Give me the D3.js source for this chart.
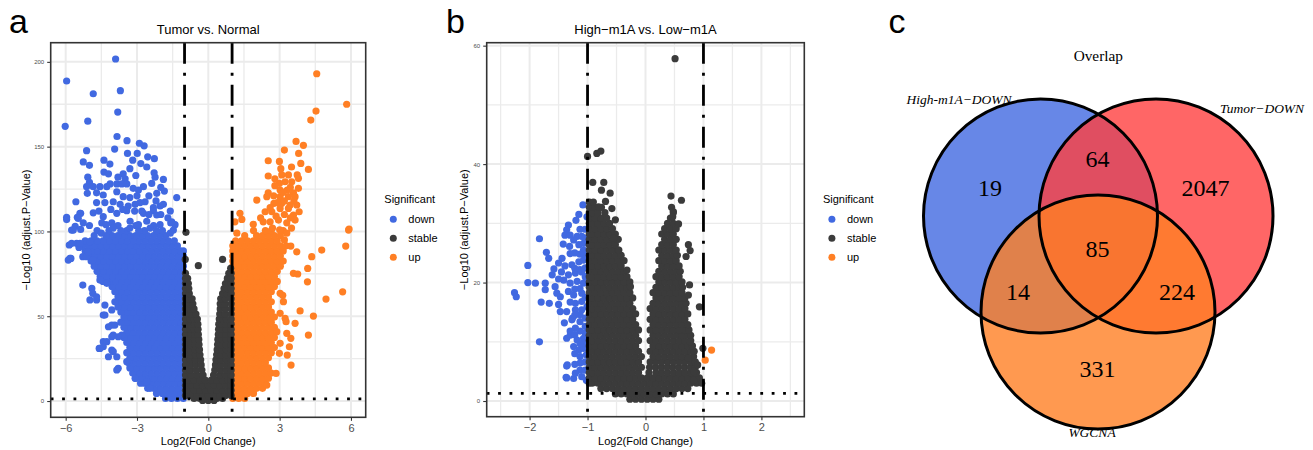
<!DOCTYPE html>
<html>
<head>
<meta charset="utf-8">
<script src="https://cdn.jsdelivr.net/npm/d3@7"></script>
<style>
  body { margin: 0; background: #fff; }
  svg { display: block; }
</style>
</head>
<body>
<svg id="fig" width="1313" height="450"></svg>
<script>
// ---------------------------------------------------------------
// Volcano data. Each row: [-log10 adj. P, log2FC, log2FC, ...]
// ---------------------------------------------------------------
const sigLevels = ["down", "stable", "up"];

// Panel a: Tumor vs. Normal
const tumorDown = [
  [1.5,-1.05,-1.3,-1.55,-1.8],
  [4.5,-1.05,-1.18,-1.43,-1.68,-1.93,-2.18],
  [7.5,-1.05,-1.3,-1.55,-1.8,-2.05,-2.3,-2.55],
  [10.5,-1.05,-1.18,-1.43,-1.68,-1.93,-2.18,-2.43,-2.68,-2.85],
  [13.5,-1.05,-1.3,-1.55,-1.8,-2.05,-2.3,-2.55,-2.8,-3.05],
  [16.5,-1.05,-1.18,-1.43,-1.68,-1.93,-2.18,-2.43,-2.68,-2.93,-3.18],
  [19.5,-1.05,-1.3,-1.55,-1.8,-2.05,-2.3,-2.55,-2.8,-3.05,-3.3],
  [22.5,-1.05,-1.18,-1.43,-1.68,-1.93,-2.18,-2.43,-2.68,-2.93,-3.18,-3.35],
  [25.5,-1.05,-1.3,-1.55,-1.8,-2.05,-2.3,-2.55,-2.8,-3.05,-3.3],
  [28.5,-1.05,-1.18,-1.43,-1.68,-1.93,-2.18,-2.43,-2.68,-2.93,-3.18,-3.43],
  [31.5,-1.05,-1.3,-1.55,-1.8,-2.05,-2.3,-2.55,-2.8,-3.05,-3.3],
  [34.5,-1.05,-1.18,-1.43,-1.68,-1.93,-2.18,-2.43,-2.68,-2.93,-3.18,-3.43],
  [37.5,-1.05,-1.3,-1.55,-1.8,-2.05,-2.3,-2.55,-2.8,-3.05,-3.3,-3.55],
  [40.5,-1.05,-1.18,-1.43,-1.68,-1.93,-2.18,-2.43,-2.68,-2.93,-3.18,-3.43],
  [43.5,-1.05,-1.3,-1.55,-1.8,-2.05,-2.3,-2.55,-2.8,-3.05,-3.3,-3.55],
  [46.5,-1.05,-1.18,-1.43,-1.68,-1.93,-2.18,-2.43,-2.68,-2.93,-3.18,-3.43,-3.68],
  [49.5,-1.05,-1.3,-1.55,-1.8,-2.05,-2.3,-2.55,-2.8,-3.05,-3.3,-3.55],
  [52.5,-1.05,-1.18,-1.43,-1.68,-1.93,-2.18,-2.43,-2.68,-2.93,-3.18,-3.43,-3.68],
  [55.5,-1.05,-1.3,-1.55,-1.8,-2.05,-2.3,-2.55,-2.8,-3.05,-3.3,-3.55,-3.8],
  [58.5,-1.05,-1.18,-1.43,-1.68,-1.93,-2.18,-2.43,-2.68,-2.93,-3.18,-3.43,-3.68,-3.93],
  [61.5,-1.05,-1.3,-1.55,-1.8,-2.05,-2.3,-2.55,-2.8,-3.05,-3.3,-3.55,-3.8],
  [64.5,-1.05,-1.18,-1.43,-1.68,-1.93,-2.18,-2.43,-2.68,-2.93,-3.18,-3.43,-3.68,-3.93],
  [67.5,-1.05,-1.3,-1.55,-1.8,-2.05,-2.3,-2.55,-2.8,-3.05,-3.3,-3.55,-3.8,-4.05],
  [70.5,-1.05,-1.18,-1.43,-1.68,-1.93,-2.18,-2.43,-2.68,-2.93,-3.18,-3.43,-3.68,-3.93,-4.18,-4.43],
  [73.5,-1.05,-1.3,-1.55,-1.8,-2.05,-2.3,-2.55,-2.8,-3.05,-3.3,-3.55,-3.8,-4.05,-4.3,-4.55],
  [76.5,-1.05,-1.18,-1.43,-1.68,-1.93,-2.18,-2.43,-2.68,-2.93,-3.18,-3.43,-3.68,-3.93,-4.18,-4.43,-4.68],
  [79.5,-1.05,-1.3,-1.55,-1.8,-2.05,-2.3,-2.55,-2.8,-3.05,-3.3,-3.55,-3.8,-4.05,-4.3,-4.55,-4.8],
  [82.5,-1.05,-1.18,-1.43,-1.68,-1.93,-2.18,-2.43,-2.68,-2.93,-3.18,-3.43,-3.68,-3.93,-4.18,-4.43,-4.68,-4.93],
  [85.5,-1.05,-1.3,-1.55,-1.8,-2.05,-2.3,-2.55,-2.8,-3.05,-3.3,-3.55,-3.8,-4.05,-4.3,-4.55,-4.8,-5.05],
  [88.5,-1.05,-1.18,-1.43,-1.68,-1.93,-2.18,-2.43,-2.68,-2.93,-3.18,-3.43,-3.68,-3.93,-4.18,-4.43,-4.68,-4.93,-5.18],
  [91.5,-1.3,-1.55,-1.8,-2.05,-2.3,-2.55,-2.8,-3.05,-3.3,-3.55,-3.8,-4.05,-4.3,-4.55,-4.8,-5.05,-5.3],
  [94.5,-1.43,-1.68,-1.93,-2.18,-2.43,-2.68,-2.93,-3.18,-3.43,-3.68,-3.93,-4.18,-4.43,-4.68,-4.93,-5.18],
  [97.5,-1.8,-2.05,-2.3,-2.55,-2.8,-3.05,-3.3,-3.55,-3.8,-4.05,-4.3,-4.8],
  [100.5,-1.93,-2.18,-2.68,-2.93,-3.43,-3.68,-4.18,-4.68],
  [103.5,-2.3,-3.05,-3.8,-5.0],
  [201.7,-3.9],[188.7,-5.96],[181.2,-4.84],[183,-3.7],[170.4,-3.81],[162,-6.02],[165,-5.07],
  [156,-3.84],[153.5,-3.42],[152,-2.9],[150.5,-2.7],[147.6,-5.12],[148.6,-3.94],[146,-3.4,-2.99],
  [144,-2.55],[142.9,-2.27],[141,-5.26],[139,-5.0],[142,-4.39,-3.18],[139.7,-4.14],[140,-2.84],
  [138,-2.59],[135,-4.39],[134,-4.2,-3.58],[131,-3.5],[133,-3.05],[134.6,-2.28],[132,-2.24,-5.07,-3.8],
  [129,-5.0],[130.7,-1.89],[126.4,-5.12,-4.84,-4.56,-4.27,-2.73],[128,-4.13,-3.85,-3.64,-3.43],
  [125.4,-3.16],[124.4,-2.94],[128.3,-2.38],[122.5,-2.17,-5.09],[123.8,-1.85],[120,-1.33],
  [122.8,-4.7],[121.5,-4.42],[123.4,-3.85],[120.5,-3.58],[117.5,-5.57,-4.0,-2.66],[117,-4.7,-4.35,-2.87],
  [116,-3.71,-3.08,-1.89],[115,-3.37,-2.03],[114,-2.31],[110.7,-5.4,-3.85,-2.73,-5.37],[108.3,-5.51,-5.96],
  [111,-4.84],[108.7,-4.42],[112.2,-3.43,-2.31],[109.7,-2.17],[107,-5.96],[103,-5.6],[105,-4.48,-4.06,-1.58],
  [106,-3.29,-2.59],[104,-2.94,-2.03,-4.3,-1.4],[100.8,-5.75,-5.68,-1.47],[101.2,-5.37],[105.1,-5.26],
  [107.7,-5.47],[105.7,-1.54],[112,-4.6,-1.6],[113,-4.1,-3.6],[112,-3.1,-2.8],[110,-2.5,-2.0],[108,-1.7],
  [120,-3.3],[121,-3.0,-2.5],[118,-2.2],[137,-3.3],[126,-2.0],[99,-4.5,-1.6],[102,-3.3,-4.0,-2.45],
  [92,-5.85],[90.6,-5.44],[83.1,-5.89,-4.84],[84.1,-5.78,-5.82],[85.1,-5.28,-5.12],[93,-5.54,-5.75,-5.4],
  [93.9,-4.98],[88,-5.05],[68.4,-5.28],[66.4,-4.9],[63.5,-4.86],[59.6,-4.98,-4.7],[61.5,-4.7],
  [71.3,-4.56],[69.4,-4.27],[56.6,-4.35],[50.7,-4.42,-4.35],[53.7,-4.06],[44.8,-4.06,-3.93],
  [43.8,-4.2],[38.9,-4.0,-3.64],[37.9,-4.06,-3.79],[35,-4.42,-4.27],[32,-4.42],[31,-4.59,-4.56],
  [30.1,-4.06],[29.1,-4.0],[26.1,-4.2,-3.85],[23.2,-3.43],[19.3,-3.79],[18.3,-3.85],[13.4,-3.08],
  [11.4,-2.59],[7.5,-2.45]
];

const tumorUp = [
  [1.5,1.03,1.28,1.53],
  [4.5,1.03,1.15,1.4,1.65,1.9],
  [7.5,1.03,1.28,1.53,1.78,2.03,2.28],
  [10.5,1.03,1.15,1.4,1.65,1.9,2.15,2.4],
  [13.5,1.03,1.28,1.53,1.78,2.03,2.28,2.53],
  [16.5,1.03,1.15,1.4,1.65,1.9,2.15,2.4,2.65],
  [19.5,1.03,1.28,1.53,1.78,2.03,2.28,2.53],
  [22.5,1.03,1.15,1.4,1.65,1.9,2.15,2.4],
  [25.5,1.03,1.28,1.53,1.78,2.03,2.28,2.53],
  [28.5,1.03,1.15,1.4,1.65,1.9,2.15,2.4,2.65],
  [31.5,1.03,1.28,1.53,1.78,2.03,2.28,2.53,2.78],
  [34.5,1.03,1.15,1.4,1.65,1.9,2.15,2.4,2.65],
  [37.5,1.03,1.28,1.53,1.78,2.03,2.28,2.53,2.78],
  [40.5,1.03,1.15,1.4,1.65,1.9,2.15,2.4,2.65],
  [43.5,1.03,1.28,1.53,1.78,2.03,2.28,2.53,2.78],
  [46.5,1.03,1.15,1.4,1.65,1.9,2.15,2.4,2.65],
  [49.5,1.03,1.28,1.53,1.78,2.03,2.28,2.53,2.78],
  [52.5,1.03,1.15,1.4,1.65,1.9,2.15,2.4,2.65],
  [55.5,1.03,1.28,1.53,1.78,2.03,2.28,2.53],
  [58.5,1.03,1.15,1.4,1.65,1.9,2.15,2.4,2.65],
  [61.5,1.03,1.28,1.53,1.78,2.03,2.28,2.53],
  [64.5,1.03,1.15,1.4,1.65,1.9,2.15,2.4,2.65],
  [67.5,1.03,1.28,1.53,1.78,2.03,2.28,2.53,2.78],
  [70.5,1.03,1.15,1.4,1.65,1.9,2.15,2.4,2.65,2.9],
  [73.5,1.03,1.28,1.53,1.78,2.03,2.28,2.53,2.78],
  [76.5,1.03,1.15,1.4,1.65,1.9,2.15,2.4,2.65,2.9],
  [79.5,1.03,1.28,1.53,1.78,2.03,2.28,2.53,2.78,3.03],
  [82.5,1.03,1.15,1.4,1.65,1.9,2.15,2.4,2.65,2.9,3.15],
  [85.5,1.03,1.28,1.53,1.78,2.03,2.28,2.53,2.78,3.03],
  [88.5,1.03,1.15,1.4,1.65,1.9,2.15,2.4,2.65,2.9,3.15],
  [91.5,1.03,1.28,1.53,1.78,2.03,2.28,2.53,2.78,3.03,3.28],
  [94.5,1.15,1.4,1.65,1.9,2.15,2.4,2.65,2.9],
  [97.5,1.53,2.03,2.28,2.53,2.78,3.03],
  [100.5,1.9,2.4,2.65,3.15],
  [193,4.56],[175,5.82],[171,4.53],[165.7,4.31],[153.1,3.69],[150.8,4.0],[148,3.2],[146,3.8],
  [141.7,2.52],[141.3,2.99],[140.1,3.89],[136.6,4.21],[132.7,2.52],[133.3,3.09,3.37,3.74],
  [131.3,3.79],[129.3,3.23,3.51],[128.3,2.99],[125.4,3.79],[124.4,3.32,3.02],[122.8,3.58,2.52],
  [120.5,2.46,3.02,3.37,3.65],[118.5,2.04],[116.6,3.09,2.76],[115.6,3.44,3.72],
  [111.6,2.39,2.67,3.82],[113.6,3.02,3.37],[109.6,3.58],[105.7,1.12,2.31,2.6],[110.7,1.33],
  [107.1,1.41],[104.2,1.89],[106.7,2.95,3.65],[105.1,3.3],[101.4,5.92],[100.8,5.9],
  [102,2.7,3.5],[101,3.0],[108,2.2,3.45],[109,2.85],[110,3.2],[114,2.6],[117,2.9],[118,3.2,3.6],
  [121,2.75],[123,3.15],[126,3.45],[131,2.8],[137,3.05],[138,3.5],[127,2.8],[99,1.2,3.3],
  [89,4.77],[91.4,5.78,3.47],[88,3.72],[78.2,4.18],[75.3,3.58],[74.9,3.76],[70.3,4.17],[60.1,4.95],
  [64.4,5.65],[50.1,4.42],[53.1,3.86],[45.8,3.65],[46.8,3.27],[37,3.47],[32,3.41],[27.1,3.32],
  [38.9,4.21],[21.2,3.48],[63.5,3.02],[62.3,3.13],[58.6,3.16],[51.7,3.02],[48.8,3.23],[39.9,3.3],
  [40.9,2.88],[95,3.2],[85.1,4.35],[28.1,2.99],[34,3.02],[16.3,2.85],[9.4,2.46]
];

const tumorStable = [
  [0.3,-0.24,0,0.24],
  [1.5,-0.6,-0.36,-0.12,0.12,0.36,0.6],
  [3.3,-0.96,-0.72,-0.48,-0.24,0,0.24,0.48,0.72,0.96],
  [6.3,-0.96,-0.84,-0.6,-0.36,-0.12,0.12,0.36,0.6,0.84,0.96],
  [9.3,-0.96,-0.72,-0.48,-0.24,0,0.24,0.48,0.72,0.96],
  [12.3,-0.96,-0.84,-0.6,-0.36,-0.13,0.13,0.36,0.6,0.84,0.96],
  [15.3,-0.96,-0.72,-0.48,-0.22,0.22,0.48,0.72,0.96],
  [18.3,-0.96,-0.76,-0.52,-0.27,0.27,0.52,0.76,0.96],
  [21.3,-0.96,-0.74,-0.52,-0.3,0.3,0.52,0.74,0.96],
  [24.3,-0.96,-0.76,-0.54,-0.32,0.32,0.54,0.76,0.96],
  [27.3,-0.96,-0.74,-0.54,-0.35,0.35,0.54,0.74,0.96],
  [30.3,-0.96,-0.76,-0.56,-0.37,0.37,0.56,0.76,0.96],
  [33.3,-0.96,-0.74,-0.55,-0.39,0.39,0.55,0.74,0.96],
  [36.3,-0.96,-0.76,-0.58,-0.4,0.4,0.58,0.76,0.96],
  [39.3,-0.96,-0.74,-0.57,-0.42,0.42,0.57,0.74,0.96],
  [42.3,-0.96,-0.76,-0.6,-0.43,0.43,0.6,0.76,0.96],
  [45.3,-0.96,-0.74,-0.58,-0.44,0.44,0.58,0.74,0.96],
  [48.3,-0.96,-0.76,-0.6,-0.46,0.46,0.6,0.76,0.96],
  [51.3,-0.96,-0.74,-0.52,0.48,0.7,0.96],
  [54.3,-0.96,-0.76,-0.6,0.5,0.72,0.96],
  [57.3,-0.96,-0.8,-0.65,0.5,0.7,0.96],
  [60.3,-0.96,-0.8,-0.68,0.52,0.72,0.96],
  [63.3,-0.96,-0.8,0.6,0.78,0.96],
  [66.3,-0.96,-0.82,0.66,0.82,0.96],
  [69.3,-0.96,-0.84,0.72,0.86,0.96],
  [72.3,-0.96,-0.87,0.8,0.96],
  [75.3,-0.96,0.86,0.96],
  [78.3,0.94],
  [99.5,-0.94],[83.5,-0.97,0.6],[79.8,-0.42]
];

// Panel b: High-m1A vs. Low-m1A
const m1aDown = [
  [33.1,-1.08],[31.1,-1.01],[27.4,-1.83],[29.7,-1.33],[28.9,-1.36],[28,-1.39,-1.3],[27.8,-1.18,-1.1],
  [27.2,-1.24],[26.1,-1.31],[26.4,-1.15],[26.6,-1.07],[25.5,-1.07],[25.1,-1.71],[24.1,-1.67,-1.44],
  [22.9,-2.03],[23.3,-1.5],[22.8,-1.39],[23,-1.27],[23.5,-1.15],[23.8,-1.07],[21.3,-1.61,-1.33],
  [21.6,-1.21],[21.8,-1.1],[20,-2.03],[19.9,-1.9,-1.73,-1.3,-1.07],[19.3,-1.56],[20.4,-1.41],
  [20.2,-1.18],[18.3,-2.26],[17.6,-2.23,-1.47],[16.7,-1.8],[16.5,-1.66,-1.21],[18.8,-1.73],
  [18.2,-1.53,-1.1],[18.5,-1.33],[17.9,-1.24],[16.8,-1.1],[15.1,-1.47,-1.36],[15.4,-1.21,-1.1],
  [15.9,-1.01],[13.7,-1.27],[13.4,-1.13],[12.6,-1.04],[12.3,-1.21],[10,-1.83],[10.6,-1.36,-1.07],
  [11.1,-1.3],[10.3,-1.18],[9.2,-1.24],[8.6,-1.15],[8.9,-1.07],[7.5,-1.13],[7.8,-1.02],
  [5.9,-1.36],[6.6,-1.04],[5.2,-1.13,-1.04],[4,-1.37],[3.8,-1.24],[4.1,-1.1],[3.5,-1.02],
  [4.7,-1.21],[6.1,-1.35],[3.9,-1.36],[14,-1.26],[11.8,-1.3],
  [29,-1.04,-1.13],[27.5,-1.04],[24.5,-1.04],[22.5,-1.04],[21,-1.04],[17.5,-1.04],[14,-1.04],
  [11.5,-1.04],[9.8,-1.04],[24.8,-1.13],[22.2,-1.13],[19,-1.13],[14.6,-1.13],[11.8,-1.13],
  [9.7,-1.13],[6.4,-1.13],[25,-1.22],[22.4,-1.22],[18.9,-1.22],[14.5,-1.22],[11.2,-1.22],[8,-1.22],
  [6.2,-1.22],[24.9,-1.3],[16.7,-1.3],[26.5,-1.42],[21.8,-1.45],[20.6,-1.5],[22.3,-1.58],
  [13.2,-1.4],[16.3,-1.5],[30.5,-1.2],[31.5,-1.15]
];

const m1aUp = [
  [8.6,1.14],[6.9,1.03]
];

const m1aStable = [
  [0.3,-0.27,-0.17,-0.07,0.03,0.13,0.23],
  [1.2,-0.52,-0.42,-0.32,-0.22,-0.12,-0.02,0.08,0.18,0.28,0.38,0.48],
  [2.1,-0.77,-0.67,-0.57,-0.47,-0.37,-0.27,-0.17,-0.07,0.03,0.13,0.23,0.33,0.43,0.53,0.63,0.73],
  [3.0,-0.97,-0.92,-0.82,-0.72,-0.62,-0.52,-0.42,-0.32,-0.22,-0.12,-0.02,0.08,0.18,0.28,0.38,0.48,0.58,0.68,0.78,0.88],
  [3.9,-0.97,-0.87,-0.77,-0.67,-0.57,-0.47,-0.37,-0.27,-0.17,-0.07,0.03,0.13,0.23,0.33,0.43,0.53,0.63,0.73,0.83,0.93],
  [4.8,-0.97,-0.92,-0.82,-0.72,-0.62,-0.52,-0.42,-0.32,-0.22,-0.12,0.06,0.18,0.28,0.38,0.48,0.58,0.68,0.78,0.88],
  [5.7,-0.97,-0.87,-0.77,-0.67,-0.57,-0.47,-0.37,-0.27,-0.17,-0.07,0.07,0.17,0.27,0.37,0.47,0.57,0.67,0.77,0.86],
  [6.6,-0.97,-0.92,-0.82,-0.72,-0.62,-0.52,-0.42,-0.32,-0.22,-0.12,0.08,0.18,0.28,0.38,0.48,0.58,0.68,0.78,0.86],
  [7.5,-0.97,-0.87,-0.77,-0.67,-0.57,-0.47,-0.37,-0.27,-0.17,-0.07,0.13,0.23,0.33,0.43,0.53,0.63,0.73,0.83],
  [8.4,-0.97,-0.92,-0.82,-0.72,-0.62,-0.52,-0.42,-0.32,-0.22,-0.12,0.08,0.18,0.28,0.38,0.48,0.58,0.68,0.78,0.84],
  [9.3,-0.97,-0.87,-0.77,-0.67,-0.57,-0.47,-0.37,-0.27,-0.17,0.13,0.23,0.33,0.43,0.53,0.63,0.73,0.81],
  [10.2,-0.97,-0.92,-0.82,-0.72,-0.62,-0.52,-0.42,-0.32,-0.22,-0.12,0.08,0.18,0.28,0.38,0.48,0.58,0.68,0.78],
  [11.1,-0.97,-0.87,-0.77,-0.67,-0.57,-0.47,-0.37,-0.27,-0.17,0.13,0.23,0.33,0.43,0.53,0.63,0.73,0.78],
  [12.0,-0.97,-0.92,-0.82,-0.72,-0.62,-0.52,-0.42,-0.32,-0.22,-0.12,0.08,0.18,0.28,0.38,0.48,0.58,0.68,0.75],
  [12.9,-0.97,-0.87,-0.77,-0.67,-0.57,-0.47,-0.37,-0.27,-0.17,0.13,0.23,0.33,0.43,0.53,0.63,0.73],
  [13.8,-0.97,-0.92,-0.82,-0.72,-0.62,-0.52,-0.42,-0.32,-0.22,0.08,0.18,0.28,0.38,0.48,0.58,0.68],
  [14.7,-0.97,-0.87,-0.77,-0.67,-0.57,-0.47,-0.37,-0.27,-0.17,0.13,0.23,0.33,0.43,0.53,0.63,0.73],
  [15.6,-0.97,-0.92,-0.82,-0.72,-0.62,-0.52,-0.42,-0.32,-0.22,0.08,0.18,0.28,0.38,0.48,0.58,0.68],
  [16.5,-0.97,-0.87,-0.77,-0.67,-0.57,-0.47,-0.37,-0.27,0.13,0.23,0.33,0.43,0.53,0.63,0.7],
  [17.4,-0.97,-0.92,-0.82,-0.72,-0.62,-0.52,-0.42,-0.32,-0.22,0.18,0.28,0.38,0.48,0.58,0.68],
  [18.3,-0.97,-0.87,-0.77,-0.67,-0.57,-0.47,-0.37,-0.27,0.13,0.23,0.33,0.43,0.53,0.63],
  [19.2,-0.97,-0.92,-0.82,-0.72,-0.62,-0.52,-0.42,-0.32,0.18,0.28,0.38,0.48,0.58,0.64],
  [20.1,-0.97,-0.87,-0.77,-0.67,-0.57,-0.47,-0.37,-0.27,0.23,0.33,0.43,0.53,0.63],
  [21.0,-0.97,-0.92,-0.82,-0.72,-0.62,-0.52,-0.42,-0.32,0.18,0.28,0.38,0.48,0.58],
  [21.9,-0.97,-0.87,-0.77,-0.67,-0.57,-0.47,-0.37,0.23,0.33,0.43,0.53,0.6],
  [22.8,-0.97,-0.92,-0.82,-0.72,-0.62,-0.52,-0.42,0.28,0.38,0.48,0.58],
  [23.7,-0.97,-0.87,-0.77,-0.67,-0.57,-0.47,-0.37,0.23,0.33,0.43,0.53],
  [24.6,-0.97,-0.92,-0.82,-0.72,-0.62,-0.52,-0.42,0.28,0.38,0.48,0.55],
  [25.5,-0.97,-0.87,-0.77,-0.67,-0.57,-0.47,0.23,0.33,0.43,0.53],
  [26.4,-0.97,-0.92,-0.82,-0.72,-0.62,-0.52,0.28,0.38,0.48],
  [27.3,-0.97,-0.87,-0.77,-0.67,-0.57,-0.47,0.33,0.43,0.53],
  [28.2,-0.97,-0.92,-0.82,-0.72,-0.62,-0.52,0.28,0.38,0.48],
  [29.1,-0.97,-0.87,-0.77,-0.67,-0.57,0.33,0.43,0.53],
  [30.0,-0.97,-0.92,-0.82,-0.72,-0.62,0.38,0.48],
  [30.9,-0.97,-0.87,-0.77,-0.67,0.43],
  [31.8,-0.97,-0.92,-0.82,-0.7,0.48],
  [32.7,-0.97,-0.87,-0.76,0.45],
  [33.6,-0.97,-0.9],
  [41.3,-1.0],[41.8,-0.84],[42.2,-0.77],[36.9,-0.91,-0.72],[35.6,-0.76],[35.1,-0.61],[33.7,-0.69],
  [32.5,-0.58],[32.8,-0.81],[30.6,-0.52],[27.5,-0.55],[25.5,-0.46],[22.1,-0.32],[19.3,-0.26],
  [57.8,0.51],[34.6,0.44],[33.9,0.62],[32,0.48],[31.1,0.47],[29.9,0.57],[26.4,0.74],[25.4,0.77],
  [24.4,0.7],[19.6,0.76],[17.9,0.74],[15.9,0.93],[8.9,0.99],[7.2,0.74],[5.0,0.83],[3.0,0.97],
  [3.5,0.83],[10,0.77],[6.1,0.9]
];

// Venn diagram: three gene sets and the size of each region
const vennSets = ["High-m1A\u2212DOWN", "Tumor\u2212DOWN", "WGCNA"];
const vennRegions = ["A", "B", "C", "AB", "AC", "BC", "ABC"];
const vennCounts = [19, 2047, 331, 64, 14, 224, 85];

// ---------------------------------------------------------------
const SANS = "'Liberation Sans', Arial, Helvetica, sans-serif";
const SERIF = "'Liberation Serif', 'Times New Roman', Times, serif";
const svg = d3.select("#fig");

const colour = d3.scaleOrdinal().domain(sigLevels).range(["#4169e1", "#3b3b3b", "#ff7f24"]);

function toPoints(rows, level) {
  return rows.flatMap(([p, ...fc]) => fc.map(v => ({ fc: v, p: p, level: level })));
}

function volcano(cfg) {
  const x = d3.scaleLinear().domain(cfg.xDomain).range([cfg.left, cfg.right]);
  const y = d3.scaleLinear().domain(cfg.yDomain).range([cfg.bottom, cfg.top]);
  const g = svg.append("g");
  const w = cfg.right - cfg.left, h = cfg.bottom - cfg.top;

  const clipId = "clip-" + cfg.id;
  g.append("clipPath").attr("id", clipId)
    .append("rect").attr("x", cfg.left).attr("y", cfg.top).attr("width", w).attr("height", h);

  g.append("rect").attr("x", cfg.left).attr("y", cfg.top).attr("width", w).attr("height", h).attr("fill", "#fff");

  // grid: minor then major
  const grid = g.append("g").attr("stroke", "#ebebeb").attr("fill", "none");
  grid.selectAll(".xm").data(cfg.xMinor).join("line")
    .attr("x1", d => x(d)).attr("x2", d => x(d)).attr("y1", cfg.top).attr("y2", cfg.bottom).attr("stroke-width", 1.3);
  grid.selectAll(".ym").data(cfg.yMinor).join("line")
    .attr("y1", d => y(d)).attr("y2", d => y(d)).attr("x1", cfg.left).attr("x2", cfg.right).attr("stroke-width", 1.3);
  grid.selectAll(".xM").data(cfg.xMajor).join("line")
    .attr("x1", d => x(d)).attr("x2", d => x(d)).attr("y1", cfg.top).attr("y2", cfg.bottom).attr("stroke-width", 2);
  grid.selectAll(".yM").data(cfg.yMajor).join("line")
    .attr("y1", d => y(d)).attr("y2", d => y(d)).attr("x1", cfg.left).attr("x2", cfg.right).attr("stroke-width", 2);

  // points
  const pts = g.append("g").attr("clip-path", `url(#${clipId})`);
  cfg.layers.forEach(layer => {
    pts.append("g").selectAll("circle").data(toPoints(layer.rows, layer.level)).join("circle")
      .attr("cx", d => x(d.fc)).attr("cy", d => y(d.p)).attr("r", 3.6)
      .attr("fill", d => colour(d.level));
  });

  // thresholds
  const th = g.append("g").attr("stroke", "#000").attr("fill", "none");
  cfg.fcCut.forEach(v => {
    th.append("line").attr("x1", x(v)).attr("x2", x(v)).attr("y1", cfg.top).attr("y2", cfg.bottom)
      .attr("stroke-width", 2.8).attr("stroke-dasharray", "21,9,3,9");
  });
  th.append("line").attr("x1", cfg.left).attr("x2", cfg.right).attr("y1", y(cfg.pCut)).attr("y2", y(cfg.pCut))
    .attr("stroke-width", 2.8).attr("stroke-dasharray", "2.8,8.6");

  // border
  g.append("rect").attr("x", cfg.left).attr("y", cfg.top).attr("width", w).attr("height", h)
    .attr("fill", "none").attr("stroke", "#333").attr("stroke-width", 1.6);

  // axes
  const ax = g.append("g").attr("transform", `translate(0,${cfg.bottom})`)
    .call(d3.axisBottom(x).tickValues(cfg.xMajor).tickFormat(d3.format("d")).tickSize(3.5).tickPadding(3));
  ax.select(".domain").remove();
  ax.selectAll("line").attr("stroke", "#333").attr("stroke-width", 1.1);
  ax.selectAll("text").attr("fill", "#4d4d4d").attr("font-size", 11).attr("font-family", SANS);

  const ay = g.append("g").attr("transform", `translate(${cfg.left},0)`)
    .call(d3.axisLeft(y).tickValues(cfg.yMajor).tickFormat(d3.format("d")).tickSize(3.5).tickPadding(3));
  ay.select(".domain").remove();
  ay.selectAll("line").attr("stroke", "#333").attr("stroke-width", 1.1);
  ay.selectAll("text").attr("fill", "#4d4d4d").attr("font-size", 6).attr("font-family", SANS);

  // titles
  g.append("text").attr("x", (cfg.left + cfg.right) / 2).attr("y", 33.5).attr("text-anchor", "middle")
    .attr("font-family", SANS).attr("font-size", 13).text(cfg.title);
  g.append("text").attr("x", (cfg.left + cfg.right) / 2).attr("y", 444.5).attr("text-anchor", "middle")
    .attr("font-family", SANS).attr("font-size", 11).text("Log2(Fold Change)");
  g.append("text").attr("transform", `translate(${cfg.yTitleX},${(cfg.top + cfg.bottom) / 2}) rotate(-90)`)
    .attr("text-anchor", "middle").attr("font-family", SANS).attr("font-size", 11)
    .text("\u2212Log10 (adjust.P\u2212Value)");

  // panel letter
  g.append("text").attr("x", cfg.letterX).attr("y", 33).attr("font-family", SANS).attr("font-size", 34)
    .text(cfg.letter);

  // legend
  const lg = g.append("g").attr("transform", `translate(${cfg.right + 18.6},0)`);
  lg.append("text").attr("x", 0).attr("y", 202.7).attr("font-family", SANS).attr("font-size", 11).text("Significant");
  const items = lg.selectAll(".item").data(sigLevels).join("g")
    .attr("transform", (d, i) => `translate(0,${219.3 + i * 19})`);
  items.append("circle").attr("cx", 9).attr("cy", 0).attr("r", 3.5).attr("fill", d => colour(d));
  items.append("text").attr("x", 24).attr("y", 4).attr("font-family", SANS).attr("font-size", 11).text(d => d);
}

volcano({
  id: "a", letter: "a", letterX: 9, title: "Tumor vs. Normal",
  left: 50.7, right: 365.7, top: 42.7, bottom: 417.3,
  xDomain: [-6.63, 6.62], yDomain: [-9.6, 211.3],
  xMajor: [-6, -3, 0, 3, 6], xMinor: [-4.5, -1.5, 1.5, 4.5],
  yMajor: [0, 50, 100, 150, 200], yMinor: [25, 75, 125, 175],
  fcCut: [-1, 1], pCut: -Math.log10(0.05), yTitleX: 29.5,
  layers: [
    { rows: tumorDown, level: "down" },
    { rows: tumorUp, level: "up" },
    { rows: tumorStable, level: "stable" }
  ]
});

volcano({
  id: "b", letter: "b", letterX: 446, title: "High\u2212m1A vs. Low\u2212m1A",
  left: 486.7, right: 804.3, top: 42.7, bottom: 416.7,
  xDomain: [-2.74, 2.74], yDomain: [-2.65, 60.5],
  xMajor: [-2, -1, 0, 1, 2], xMinor: [-2.5, -1.5, -0.5, 0.5, 1.5, 2.5],
  yMajor: [0, 20, 40, 60], yMinor: [10, 30, 50],
  fcCut: [-1, 1], pCut: -Math.log10(0.05), yTitleX: 468,
  layers: [
    { rows: m1aDown, level: "down" },
    { rows: m1aUp, level: "up" },
    { rows: m1aStable, level: "stable" }
  ]
});

// ---------------------------------------------------------------
// Venn diagram (panel c)
// ---------------------------------------------------------------
const venn = svg.append("g");
const R = 117;
const circles = [
  { cx: 1040.5, cy: 216, fill: "#4169e1" },
  { cx: 1156, cy: 216, fill: "#ff4040" },
  { cx: 1098, cy: 312, fill: "#ff7f24" }
];
venn.selectAll(".fill").data(circles).join("circle")
  .attr("cx", d => d.cx).attr("cy", d => d.cy).attr("r", R)
  .attr("fill", d => d.fill).attr("fill-opacity", 0.8);
venn.selectAll(".edge").data(circles).join("circle")
  .attr("cx", d => d.cx).attr("cy", d => d.cy).attr("r", R)
  .attr("fill", "none").attr("stroke", "#000").attr("stroke-width", 3);

const regionPos = {
  A: [990, 196], B: [1205.5, 196], C: [1097.5, 376.7],
  AB: [1097.5, 167.3], AC: [1018, 300], BC: [1177, 300], ABC: [1097.5, 256.7]
};
venn.selectAll(".count").data(vennRegions).join("text")
  .attr("x", d => regionPos[d][0]).attr("y", d => regionPos[d][1])
  .attr("text-anchor", "middle").attr("font-family", SERIF).attr("font-size", 24)
  .text((d, i) => vennCounts[i]);

const setLabelPos = [
  { x: 906.5, y: 104, anchor: "start" },
  { x: 1220, y: 112.7, anchor: "start" },
  { x: 1092, y: 436.7, anchor: "middle" }
];
venn.selectAll(".setname").data(vennSets).join("text")
  .attr("x", (d, i) => setLabelPos[i].x).attr("y", (d, i) => setLabelPos[i].y)
  .attr("text-anchor", (d, i) => setLabelPos[i].anchor)
  .attr("font-family", SERIF).attr("font-style", "italic").attr("font-size", 13.5)
  .text(d => d);

venn.append("text").attr("x", 1098.3).attr("y", 61).attr("text-anchor", "middle")
  .attr("font-family", SERIF).attr("font-size", 15.3).text("Overlap");
venn.append("text").attr("x", 888.5).attr("y", 33).attr("font-family", SANS).attr("font-size", 34).text("c");
</script>
</body>
</html>
